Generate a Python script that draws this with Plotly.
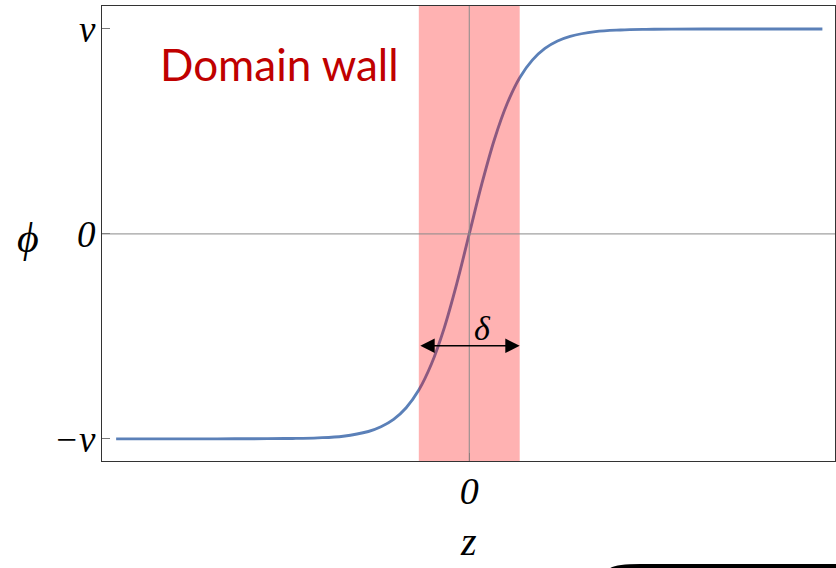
import plotly.graph_objects as go

# Field profile phi(z) across the wall, values read at sample positions
z_vals = [-7, -6, -5, -4, -3.5, -3, -2.5, -2, -1.75, -1.5, -1.25, -1, -0.75, -0.5, -0.25, 0,
          0.25, 0.5, 0.75, 1, 1.25, 1.5, 1.75, 2, 2.5, 3, 3.5, 4, 5, 6, 7]
phi_vals = [-1.0, -1.0, -1.0, -0.999, -0.998, -0.995, -0.987, -0.964, -0.941, -0.905, -0.848,
            -0.762, -0.635, -0.462, -0.245, 0.0,
            0.245, 0.462, 0.635, 0.762, 0.848, 0.905, 0.941, 0.964, 0.987, 0.995, 0.998,
            0.999, 1.0, 1.0, 1.0]

# Wall thickness band (z from -delta to +delta)
wall_left, wall_right = -1.0, 1.0
arrow_level = -0.546

y_ticks = [-1, 0, 1]
y_ticktext = ["\u2212v", "0", "v"]
x_ticks = [0]
x_ticktext = ["0"]

x_range = [-7.28, 7.25]
y_range = [-1.108, 1.112]

serif = "Liberation Serif"

fig = go.Figure()
fig.add_trace(go.Scatter(
    x=z_vals, y=phi_vals, mode="lines", line_shape="spline",
    line=dict(color="#5B80B8", width=2.9), hoverinfo="skip", showlegend=False,
))

# translucent band over the curve
fig.add_shape(type="rect", xref="x", yref="y", x0=wall_left, x1=wall_right,
              y0=y_range[0], y1=y_range[1], fillcolor="rgba(255,0,0,0.3)",
              line=dict(width=0), layer="above")
# axis cross lines through the origin, above the band
fig.add_shape(type="line", xref="x", yref="y", x0=0, x1=0, y0=y_range[0], y1=y_range[1],
              line=dict(color="#8a8a8a", width=1), layer="above")
fig.add_shape(type="line", xref="x", yref="y", x0=x_range[0], x1=x_range[1], y0=0, y1=0,
              line=dict(color="#8a8a8a", width=1), layer="above")

# double-headed width arrow
fig.add_annotation(x=wall_right, y=arrow_level, ax=wall_left, ay=arrow_level,
                   xref="x", yref="y", axref="x", ayref="y", text="",
                   showarrow=True, arrowhead=2, startarrowhead=2, arrowside="end+start",
                   arrowsize=1.8, startarrowsize=1.8, arrowwidth=1.6, arrowcolor="black")
fig.add_annotation(x=0.26, y=-0.46, xref="x", yref="y", text="\u03b4", showarrow=False,
                   font=dict(family=serif, size=34, color="black", style="italic"))

fig.add_annotation(x=279, y=64, xref="paper", yref="paper", text="Domain wall",
                   showarrow=False, xanchor="center", yanchor="middle",
                   font=dict(family="Lato", size=44, color="#C00000"))

# axis names
fig.add_annotation(x=28, y=238, xref="paper", yref="paper", text="\u03d5", showarrow=False,
                   xanchor="center", yanchor="middle",
                   font=dict(family=serif, size=42, color="black", style="italic"))
fig.add_annotation(x=468, y=541, xref="paper", yref="paper", text="z", showarrow=False,
                   xanchor="center", yanchor="middle",
                   font=dict(family=serif, size=40, color="black", style="italic"))

# dark rounded edge peeking in at the bottom right
fig.add_shape(type="path", xref="paper", yref="paper",
              path="M 608,570 Q 612,564 640,564 L 840,564 L 840,575 L 608,575 Z",
              fillcolor="black", line=dict(width=0), layer="above")

W, H = 836, 568
L, R, T, B = 102, 1, 6, 107
pw, ph = W - L - R, H - T - B


def to_paper(fig):
    # convert pixel-positioned paper items to paper fractions
    for a in fig.layout.annotations:
        if a.xref == "paper":
            a.x = (a.x - L) / pw
            a.y = (H - B - a.y) / ph
    for s in fig.layout.shapes:
        if s.xref == "paper" and s.path:
            toks = s.path.replace(",", " ").split()
            res = []
            i = 0
            while i < len(toks):
                t = toks[i]
                if t.isalpha():
                    res.append(t)
                    i += 1
                else:
                    x = (float(toks[i]) - L) / pw
                    y = (H - B - float(toks[i + 1])) / ph
                    res.append(f"{x:.4f},{y:.4f}")
                    i += 2
            s.path = " ".join(res)


to_paper(fig)

fig.update_layout(
    width=W, height=H, margin=dict(l=L, r=R, t=T, b=B),
    paper_bgcolor="white", plot_bgcolor="white",
    xaxis=dict(range=x_range, showgrid=False, zeroline=False, tickvals=x_ticks,
               ticktext=x_ticktext, ticks="inside", ticklen=8, tickcolor="#777",
               showline=True, mirror=True, linecolor="#333", linewidth=1.3,
               tickfont=dict(family=serif, size=38, color="black", style="italic"),
               ticklabelstandoff=-4),
    yaxis=dict(range=y_range, showgrid=False, zeroline=False, tickvals=y_ticks,
               ticktext=y_ticktext, ticks="inside", ticklen=8, tickcolor="#777",
               showline=True, mirror=True, linecolor="#333", linewidth=1.3,
               tickfont=dict(family=serif, size=37, color="black", style="italic"),
               ticklabelstandoff=-2),
)

fig.write_html("out.html")
